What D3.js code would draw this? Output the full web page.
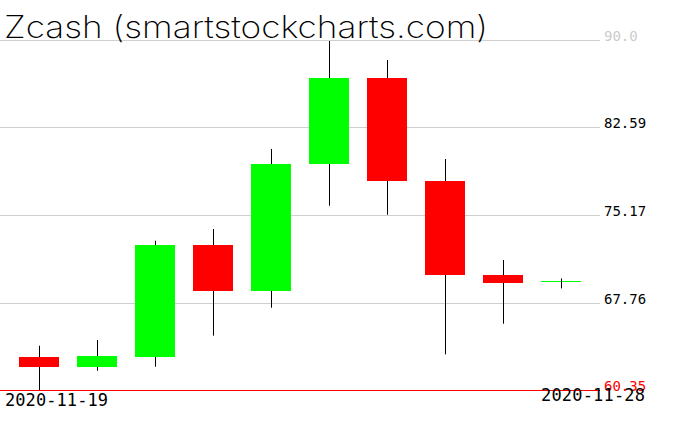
<!DOCTYPE html>
<html>
<head>
<meta charset="utf-8">
<script src="https://cdn.jsdelivr.net/npm/d3@7"></script>
<style>
  body { margin: 0; background: #fff; }
  svg { display: block; }
</style>
</head>
<body>
<div id="chart"></div>
<script>
const dates = ['2020-11-19', '2020-11-20', '2020-11-21', '2020-11-22', '2020-11-23',
  '2020-11-24', '2020-11-25', '2020-11-26', '2020-11-27', '2020-11-28'];
const opens = [63.15, 62.32, 63.17, 72.63, 68.76, 79.48, 86.78, 78.08, 70.12, 69.56];
const highs = [64.10, 64.59, 73.00, 73.99, 80.77, 89.92, 88.31, 79.92, 71.36, 69.78];
const lows = [60.35, 61.98, 62.32, 64.95, 67.32, 75.96, 75.20, 63.37, 65.97, 68.97];
const closes = [62.32, 63.26, 72.63, 68.76, 79.48, 86.78, 78.08, 70.12, 69.44, 69.58];
const tickValues = [60.35, 67.76, 75.17, 82.59, 90.0];
const tickLabels = ['60.35', '67.76', '75.17', '82.59', '90.0'];

const candles = dates.map((d, i) => ({
  date: d, open: opens[i], high: highs[i], low: lows[i], close: closes[i]
}));

let w = 676,
  h = 431;

let svg = d3.select('#chart')
  .append('svg')
  .attr('width', w)
  .attr('height', h);

let x = d3.scaleBand()
  .domain(dates)
  .range([10, 590])
  .paddingInner(0.31)
  .paddingOuter(0.155);

let y = d3.scaleLinear()
  .domain([60.35, 90.0])
  .range([390, 40]);

// gridlines
svg.append('g')
  .selectAll('line')
  .data(tickValues.slice(1))
  .enter()
  .append('line')
  .attr('x1', 0)
  .attr('x2', 600)
  .attr('y1', d => Math.round(y(d)) + 0.5)
  .attr('y2', d => Math.round(y(d)) + 0.5)
  .attr('stroke', '#d0d0d0')
  .attr('stroke-width', 1);

// tick labels on the right
svg.append('g')
  .selectAll('text')
  .data(tickValues)
  .enter()
  .append('text')
  .attr('x', 604)
  .attr('y', d => Math.round(y(d)) + 1)
  .attr('font-family', 'DejaVu Sans Mono, monospace')
  .attr('font-size', 14)
  .attr('fill', (d, i) => i === 0 ? '#ff0000' : (i === tickValues.length - 1 ? '#cccccc' : '#000'))
  .text((d, i) => tickLabels[i]);

// wicks
svg.append('g')
  .selectAll('line')
  .data(candles)
  .enter()
  .append('line')
  .attr('x1', d => Math.round(x(d.date) + x.bandwidth() / 2) + 0.5)
  .attr('x2', d => Math.round(x(d.date) + x.bandwidth() / 2) + 0.5)
  .attr('y1', d => y(d.high))
  .attr('y2', d => y(d.low))
  .attr('stroke', '#000')
  .attr('stroke-width', 1);

// bodies
svg.append('g')
  .selectAll('rect')
  .data(candles)
  .enter()
  .append('rect')
  .attr('x', d => Math.round(x(d.date)))
  .attr('width', Math.round(x.bandwidth()))
  .attr('y', d => Math.round(y(Math.max(d.open, d.close))))
  .attr('height', d => Math.max(1, Math.round(Math.abs(y(d.open) - y(d.close)))))
  .attr('fill', d => d.close >= d.open ? '#00ff00' : '#ff0000');

// doji wick drawn on top
svg.append('g')
  .selectAll('line')
  .data(candles.filter(d => Math.abs(y(d.open) - y(d.close)) < 2))
  .enter()
  .append('line')
  .attr('x1', d => Math.round(x(d.date) + x.bandwidth() / 2) + 0.5)
  .attr('x2', d => Math.round(x(d.date) + x.bandwidth() / 2) + 0.5)
  .attr('y1', d => y(d.high))
  .attr('y2', d => y(d.low))
  .attr('stroke', '#000');

// baseline (minimum)
svg.append('line')
  .attr('x1', 0)
  .attr('x2', 600)
  .attr('y1', Math.round(y(60.35)) + 0.5)
  .attr('y2', Math.round(y(60.35)) + 0.5)
  .attr('stroke', '#ff0000')
  .attr('stroke-width', 1);

// top gridline
svg.append('line')
  .attr('x1', 0)
  .attr('x2', 600)
  .attr('y1', Math.round(y(90.0)) + 0.5)
  .attr('y2', Math.round(y(90.0)) + 0.5)
  .attr('stroke', '#d0d0d0');

// title
svg.append('text')
  .attr('x', 4)
  .attr('y', 38)
  .attr('font-family', 'Inter, Lato, sans-serif')
  .attr('font-weight', 200)
  .attr('font-size', 31)
  .attr('textLength', 484)
  .attr('lengthAdjust', 'spacingAndGlyphs')
  .attr('fill', '#000')
  .text('Zcash (smartstockcharts.com)');

// date labels
svg.append('text')
  .attr('x', 5)
  .attr('y', 406)
  .attr('font-family', 'DejaVu Sans Mono, monospace')
  .attr('font-size', 17)
  .attr('textLength', 103)
  .text(dates[0]);

svg.append('text')
  .attr('x', 541)
  .attr('y', 401)
  .attr('font-family', 'DejaVu Sans Mono, monospace')
  .attr('font-size', 17)
  .attr('textLength', 104)
  .text(dates[dates.length - 1]);
</script>
</body>
</html>
